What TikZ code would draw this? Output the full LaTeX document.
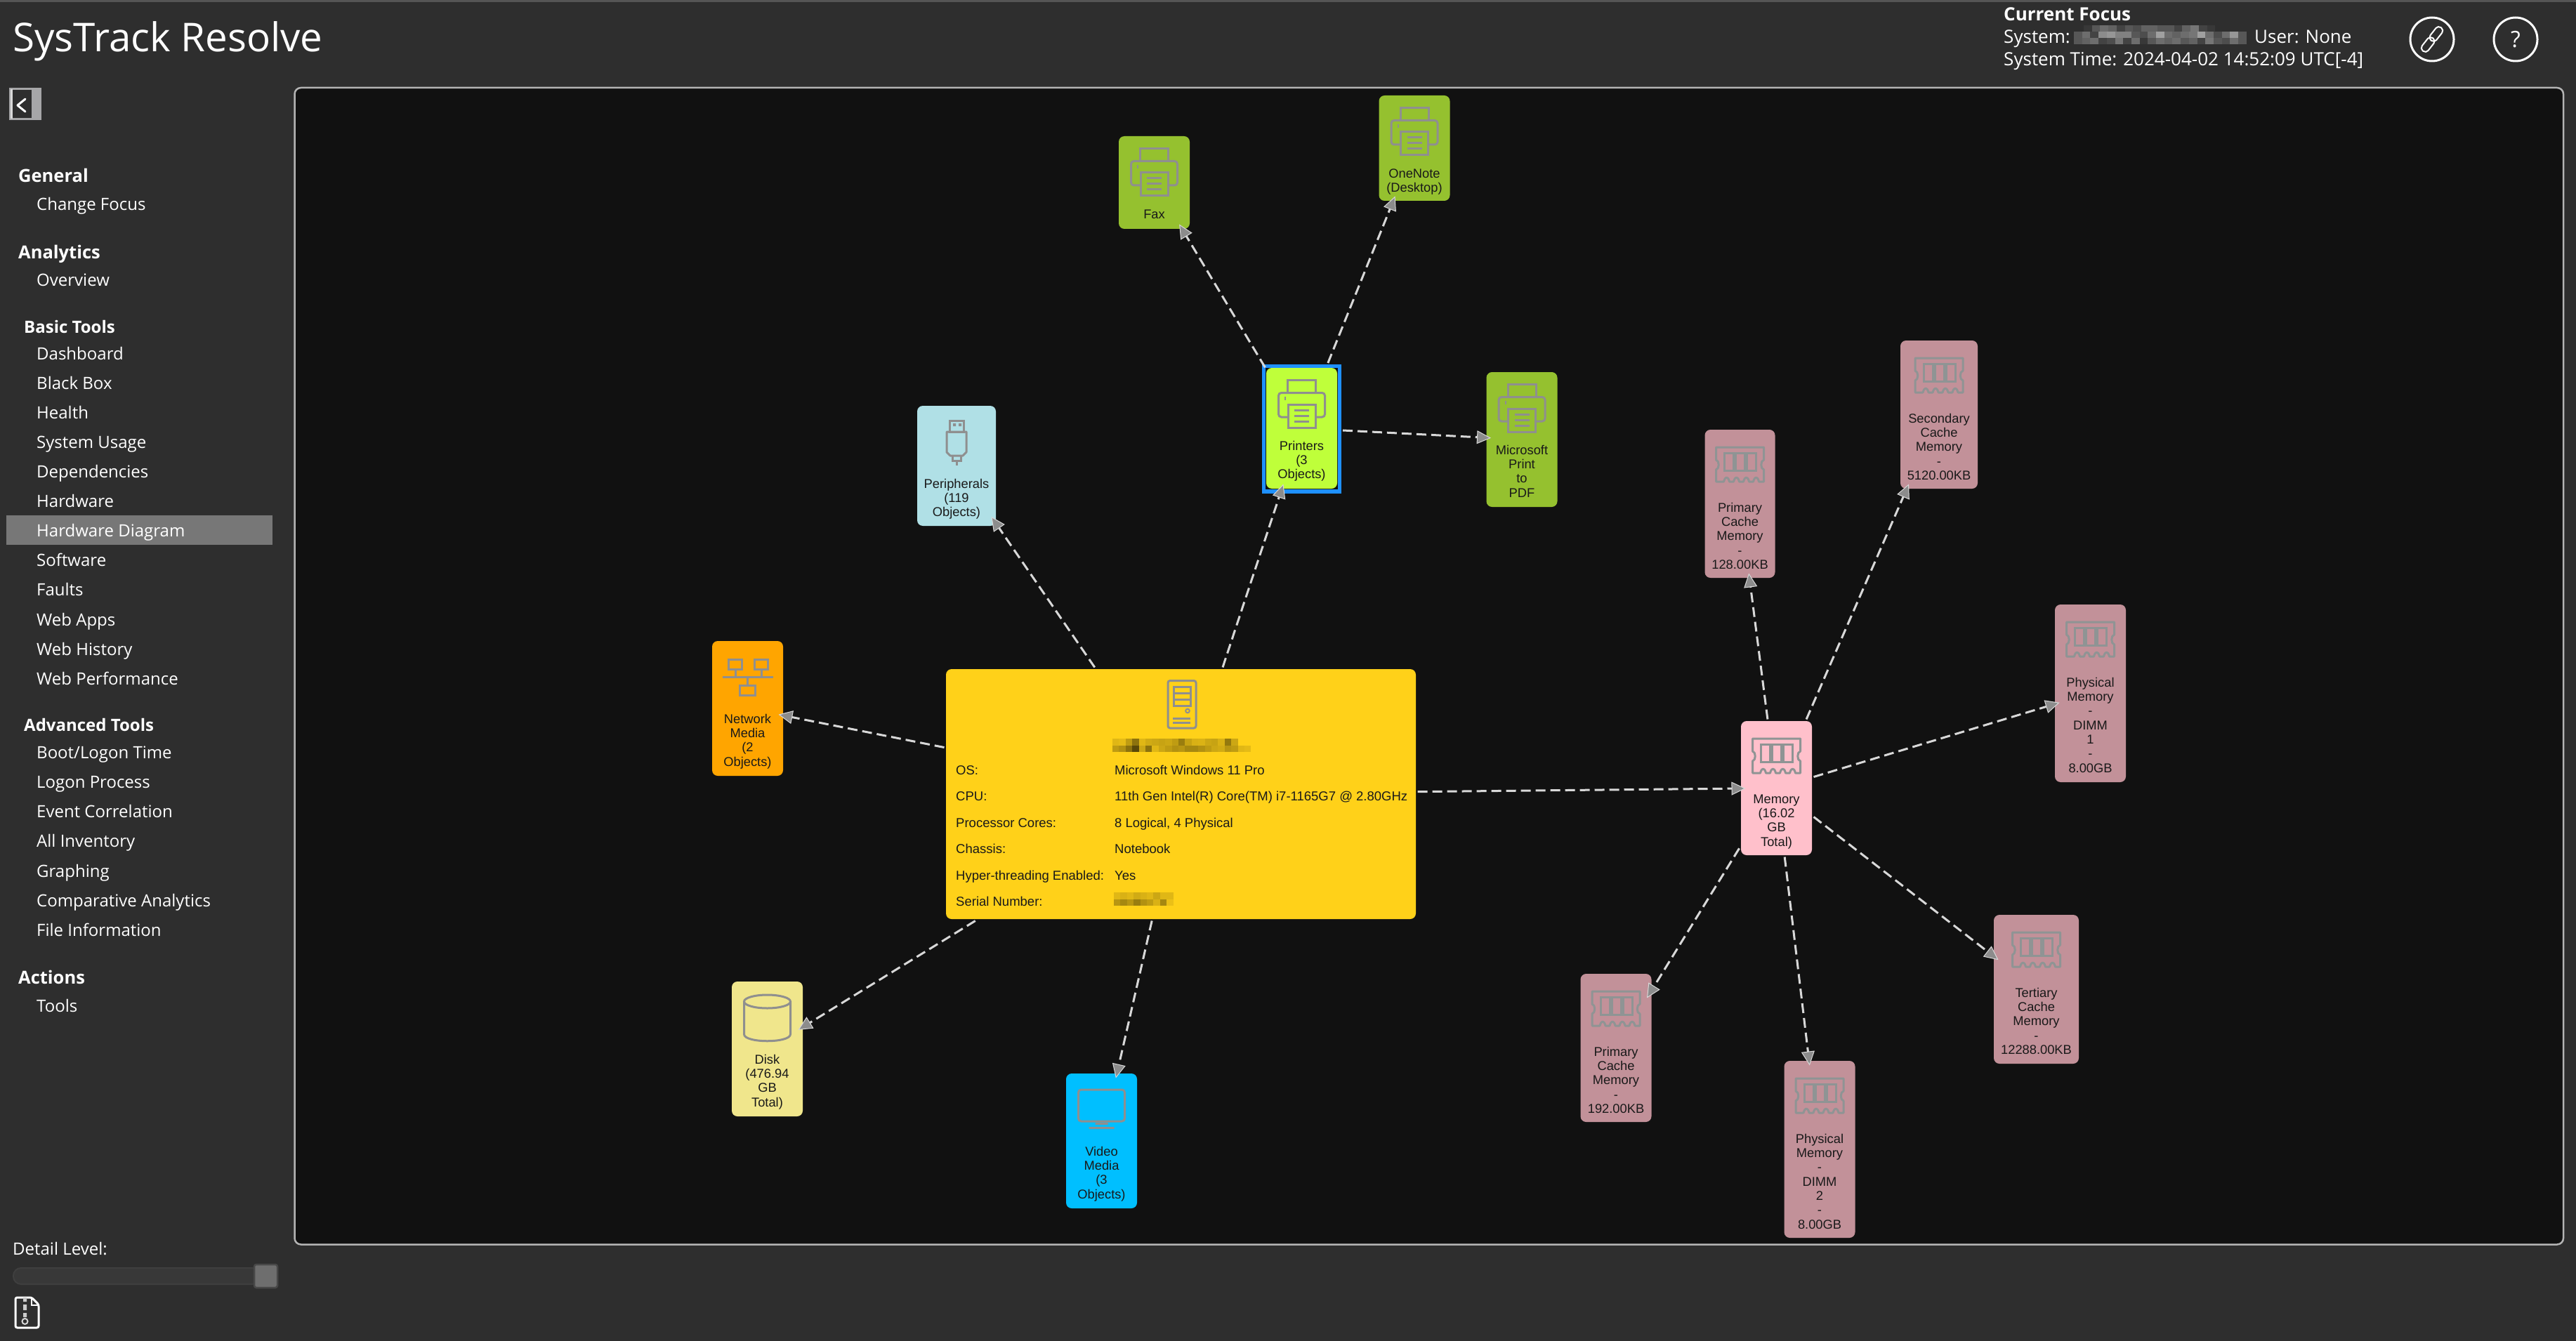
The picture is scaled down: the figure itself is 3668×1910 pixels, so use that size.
\documentclass[tikz,border=0pt]{standalone}
\usepackage{fontspec}
\setmainfont{Open Sans}
\newfontfamily\arialf{Liberation Sans}
\usetikzlibrary{arrows.meta}
\definecolor{pagebg}{HTML}{2E2E2E}
\definecolor{panelbg}{HTML}{111111}
\definecolor{panelline}{HTML}{B4B4B4}
\definecolor{edgeline}{HTML}{D8D8D8}
\definecolor{tipfill}{HTML}{8C8C8C}
\definecolor{icongray}{HTML}{8F8F8F}
\definecolor{ramgray}{HTML}{8F9494}
\definecolor{dimpink}{HTML}{C29199}
\definecolor{brightpink}{HTML}{FFC0CB}
\definecolor{dimgreen}{HTML}{95C12F}
\definecolor{brightgreen}{HTML}{BFFF3A}
\definecolor{mainyellow}{HTML}{FFD119}
\definecolor{selblue}{HTML}{1E90FF}
\definecolor{powder}{HTML}{B0E0E6}
\definecolor{orangec}{HTML}{FFA500}
\definecolor{khakic}{HTML}{F0E68C}
\definecolor{skyc}{HTML}{00BFFF}
\definecolor{topline}{HTML}{555555}
\definecolor{highlightc}{HTML}{777777}
\definecolor{trackfill}{HTML}{383838}
\definecolor{trackline}{HTML}{3F3F3F}
\definecolor{thumbfill}{HTML}{6E6E6E}
\definecolor{thumbline}{HTML}{484848}
\definecolor{btngray}{HTML}{A6A6A8}
\tikzset{
  chipbox/.style={rectangle,rounded corners=8pt,inner sep=0pt,outer sep=-6.5pt},
  lab/.style={anchor=north,align=center,inner sep=0pt,text=black!90,font=\arialf\fontsize{18.3}{20.3}\selectfont},
  edge/.style={edgeline,line width=3pt,dash pattern=on 14pt off 7pt,-{Triangle[length=20pt,width=19pt,fill=tipfill,line width=1pt]}},
  icon/.style={icongray,line width=3pt},
  ramicon/.style={ramgray,line width=3pt},
  navh/.style={anchor=base west,inner sep=0pt,text=white,font=\bfseries\fontsize{25.5}{28}\selectfont},
  navs/.style={anchor=base west,inner sep=0pt,text=white,font=\bfseries\fontsize{24}{28}\selectfont},
  navi/.style={anchor=base west,inner sep=0pt,text=white,font=\fontsize{24}{28}\selectfont},
  tabl/.style={anchor=base west,inner sep=0pt,text=black!90,font=\arialf\fontsize{18.5}{22}\selectfont},
  hdr/.style={anchor=base west,inner sep=0pt,text=white,font=\fontsize{26}{30}\selectfont},
}
\newcommand\chipnode[7]{%
  \node[chipbox,fill=#6,minimum width=#4pt,minimum height=#5pt] (#1) at (#2,{#3+#5/2}) {};
  \node[lab] (#1t) at (#2,{#3+103}) {\rule{0pt}{14pt}#7};}
\newcommand\printericon[2]{\begin{scope}[shift={(#1,#2)}]
  \draw[icon] (-20,35) -- (-20,17.5) -- (20,17.5) -- (20,35);
  \draw[icon,rounded corners=4pt] (-19.5,70) -- (-33,70) -- (-33,35.5) -- (33,35.5) -- (33,70) -- (19.5,70);
  \draw[icon] (-19.5,52) rectangle (19.5,85);
  \draw[icon] (-10.5,60) -- (10.5,60) (-10.5,68) -- (10.5,68) (-10.5,76) -- (10.5,76);
  \fill[icongray] (-24.5,41) rectangle (-22.5,46);
\end{scope}}
\newcommand\ramglyph[2]{\begin{scope}[shift={(#1,#2)}]
  \draw[ramicon,line join=round] (-34,25) -- (34,25) -- (34,43) .. controls (29,44) and (29,56) .. (34,57) -- (34,74)
    -- (27,74) .. controls (25,66) and (21,66) .. (19,74) -- (13,74) .. controls (11,66) and (7,66) .. (5,74)
    -- (-1,74) .. controls (-3,66) and (-7,66) .. (-9,74) -- (-15,74) .. controls (-17,66) and (-21,66) .. (-23,74) -- (-34,74)
    -- (-34,57) .. controls (-29,56) and (-29,44) .. (-34,43) -- cycle;
  \draw[ramicon] (-22,33) rectangle (-9,58) (-6,33) rectangle (7,58) (10,33) rectangle (23,58);
\end{scope}}
\begin{document}
\begin{tikzpicture}[x=1pt,y=-1pt]
\useasboundingbox (0,0) rectangle (3668,1910);
\fill[pagebg] (0,0) rectangle (3668,1910);
\fill[topline] (0,0) rectangle (3668,3.5);
% header
\node[anchor=base west,inner sep=0pt,text=white,font=\fontsize{56.5}{64}\selectfont] (title) at (18,74) {SysTrack Resolve};
\node[hdr,font=\bfseries\fontsize{26}{30}\selectfont] (focus) at (2853,30) {Current Focus};
\node[hdr] (sysl) at (2853,62) {System:};
\node[hdr] (userl) at (3210,62) {User: None};
\node[hdr] (timel) at (2853,94) {System Time: 2024-04-02 14:52:09 UTC[-4]};
\foreach \o [count=\i from 0] in {.05,.2,.3,.25,.1,.2,.15,.25,.25,.2,.2,.1,.25,.35,.1,.05}
  \fill[white,opacity=\o] ({2967+\i*11.7},36) rectangle +(11.7,9);
\foreach \o [count=\i from 0] in {.2,.3,.1,.45,.5,.4,.4,.2,.15,.3,.55,.3,.25,.3,.35,.55,.3,.15,.3,.5,.2}
  \fill[white,opacity=\o] ({2953+\i*11.7},45) rectangle +(11.7,9);
\foreach \o [count=\i from 0] in {.2,.25,.3,.1,.15,.35,.1,.3,.05,.2,.3,.25,.3,.2,.25,.1,.35,.2,.15,.3,.2}
  \fill[white,opacity=\o] ({2953+\i*11.7},54) rectangle +(11.7,9);
\node[circle,draw=white,line width=3pt,minimum size=62pt,inner sep=0pt] (linkbtn) at (3463,56) {};
\begin{scope}[shift={(3463,56)},rotate=52]
  \draw[white,line width=2pt,rounded corners=5pt] (-21,-5.5) rectangle (2,5.5);
  \draw[white,line width=2pt,rounded corners=5pt] (-2,-5.5) rectangle (21,5.5);
\end{scope}
\node[circle,draw=white,line width=3pt,minimum size=62pt,inner sep=0pt,text=white,font=\fontsize{32}{36}\selectfont] (helpbtn) at (3582,56) {?};
% collapse button
\fill[btngray] (13,125) rectangle (59,171);
\fill[pagebg] (18,128) rectangle (45,168);
\draw[white,line width=3pt,line cap=round,line join=round] (36,141) -- (25,150) -- (36,159);
\fill[white!85!black] (15,127) rectangle (18,169);
% sidebar
\node[navh] (gen) at (26,260) {General};
\node[navi] (chg) at (52,300) {Change Focus};
\node[navh] (ana) at (26,368) {Analytics};
\node[navi] (ovr) at (52,407) {Overview};
\node[navs] (bas) at (34,474) {Basic Tools};
\fill[highlightc] (9,734) rectangle (388,776);
\foreach \y/\t in {512/Dashboard,554/Black Box,596/Health,638/System Usage,680/Dependencies,722/Hardware,764/Hardware Diagram,806/Software,848/Faults,891/Web Apps,933/Web History,975/Web Performance}
  \node[navi] (nb\y) at (52,\y) {\t};
\node[navs] (adv) at (34,1041) {Advanced Tools};
\foreach \y/\t in {1080/{Boot/Logon Time},1122/Logon Process,1164/Event Correlation,1206/All Inventory,1249/Graphing,1291/Comparative Analytics,1333/File Information}
  \node[navi] (na\y) at (52,\y) {\t};
\node[navh] (act) at (26,1401) {Actions};
\node[navi] (tls) at (52,1441) {Tools};
% detail level
\node[navi] (detail) at (18,1787) {Detail Level:};
\draw[fill=trackfill,draw=trackline,line width=2pt,rounded corners=11pt] (19,1806) rectangle (370,1829);
\draw[fill=thumbfill,draw=thumbline,line width=2.5pt,rounded corners=3pt] (362,1801) rectangle (395,1834);
% zip file icon
\draw[white,line width=3pt,line join=round,rounded corners=2.5pt] (22,1848) -- (45,1848) -- (55,1858) -- (55,1891) -- (22,1891) -- cycle;
\draw[white,line width=2.5pt] (45,1848) -- (45,1859) -- (55,1859);
\fill[white!75!pagebg] (33,1848) rectangle (38,1854) (33,1858) rectangle (38,1866) (33,1870) rectangle (38,1876);
\draw[white!80!pagebg,line width=2pt] (35.5,1882) circle (4);
% panel
\draw[fill=panelbg,draw=panelline,line width=2.5pt,rounded corners=9pt] (419.5,125) rectangle (3650,1772.5);
% chips
\node[chipbox,fill=mainyellow,minimum width=669pt,minimum height=356pt] (main) at (1681.5,1131) {};
\chipnode{fax}{1643.5}{194}{101}{132}{dimgreen}{Fax}
\chipnode{onenote}{2014}{136}{101}{150}{dimgreen}{OneNote\\(Desktop)}
\chipnode{printers}{1853.5}{524}{101}{172}{brightgreen}{Printers\\(3\\Objects)}
\chipnode{msprint}{2167}{530}{101}{192}{dimgreen}{Microsoft\\Print\\to\\PDF}
\chipnode{periph}{1362}{578}{112}{171}{powder}{Peripherals\\(119\\Objects)}
\chipnode{netw}{1064.5}{913}{101}{192}{orangec}{Network\\Media\\(2\\Objects)}
\chipnode{disk}{1092.5}{1398}{101}{192}{khakic}{Disk\\(476.94\\GB\\Total)}
\chipnode{video}{1568.5}{1529}{101}{192}{skyc}{Video\\Media\\(3\\Objects)}
\chipnode{mem}{2529.5}{1027}{101}{191}{brightpink}{Memory\\(16.02\\GB\\Total)}
\chipnode{seccache}{2761}{485}{110}{211}{dimpink}{Secondary\\Cache\\Memory\\-\\5120.00KB}
\chipnode{primA}{2477.5}{612}{100}{211}{dimpink}{Primary\\Cache\\Memory\\-\\128.00KB}
\chipnode{physA}{2976.5}{861}{101}{253}{dimpink}{Physical\\Memory\\-\\DIMM\\1\\-\\8.00GB}
\chipnode{terc}{2899.5}{1303}{121}{212}{dimpink}{Tertiary\\Cache\\Memory\\-\\12288.00KB}
\chipnode{physB}{2591}{1511}{101}{252}{dimpink}{Physical\\Memory\\-\\DIMM\\2\\-\\8.00GB}
\chipnode{primB}{2301}{1387}{101}{211}{dimpink}{Primary\\Cache\\Memory\\-\\192.00KB}
% selection
\node[draw=selblue,line width=5.5pt,minimum width=108pt,minimum height=178.5pt,inner sep=0pt] (sel) at (1853.5,610.5) {};
% icons
\printericon{1643.5}{194}
\printericon{2014}{136}
\printericon{1853.5}{524}
\printericon{2167}{530}
\ramglyph{2529.5}{1027}
\ramglyph{2761}{485}
\ramglyph{2477.5}{612}
\ramglyph{2976.5}{861}
\ramglyph{2899.5}{1303}
\ramglyph{2591}{1511}
\ramglyph{2301}{1387}
% usb
\begin{scope}[shift={(1362,578)}]
  \draw[icon] (-10,21) rectangle (10,37);
  \fill[icongray] (-5,25) rectangle (-1,29) (3,25) rectangle (7,29);
  \draw[icon,line join=round] (-14,37) -- (14,37) -- (14,66) -- (9,71) -- (-9,71) -- (-14,66) -- cycle;
  \draw[icon] (-6,71) -- (-6,78) -- (6,78) -- (6,71) (0,78) -- (0,85);
\end{scope}
% network
\begin{scope}[shift={(1064.5,913)}]
  \draw[icon] (-27,26) rectangle (-8,40) (10,26) rectangle (29,40) (-11,63) rectangle (11,77);
  \draw[icon] (-36,51.5) -- (36,51.5) (-17.5,40) -- (-17.5,51.5) (19.5,40) -- (19.5,51.5) (0,51.5) -- (0,63);
\end{scope}
% disk
\begin{scope}[shift={(1092.5,1398)}]
  \draw[icon] (0,28.5) ellipse (33 and 9.5);
  \draw[icon] (-33,28.5) -- (-33,75) .. controls (-33,88) and (33,88) .. (33,75) -- (33,28.5);
\end{scope}
% monitor
\begin{scope}[shift={(1568.5,1529)}]
  \draw[icon,rounded corners=4pt] (-33,23) rectangle (33,68);
  \fill[icongray] (-9,70) rectangle (9,73) (-18,76) rectangle (18,79);
\end{scope}
% server
\draw[icon,rounded corners=3pt] (1663,969.5) rectangle (1703,1037);
\draw[icon] (1671,978) rectangle (1695,1005) (1671,987) -- (1695,987) (1671,996) -- (1695,996);
\draw[icon,line width=2pt] (1691,1012.5) circle (2.8);
\draw[icon] (1670,1023) -- (1695,1023) (1670,1029) -- (1695,1029);
% main table
\foreach \y/\a/\b in {1103/OS:/Microsoft Windows 11 Pro,1140/CPU:/11th Gen Intel(R) Core(TM) i7-1165G7 @ 2.80GHz,1178/Processor Cores:/{8 Logical, 4 Physical},1215/Chassis:/Notebook,1253/Hyper-threading Enabled:/Yes}{
  \node[tabl] (ka\y) at (1361,\y) {\a};
  \node[tabl] (va\y) at (1587,\y) {\b};
}
\node[tabl] (ka1290) at (1361,1290) {Serial Number:};
\foreach \o [count=\i from 0] in {.12,.1,.25,.45,.12,.18,.2,.22,.2,.25,.4,.22,.15,.14,.2,.22,.15,.42,.2}
  \fill[black,opacity=\o] ({1584+\i*9.4},1052) rectangle +(9.4,9.5);
\foreach \o [count=\i from 0] in {.25,.3,.45,.65,.2,.45,.12,.2,.25,.3,.28,.35,.35,.3,.25,.2,.18,.28,.25,.12,.1}
  \fill[black,opacity=\o] ({1584+\i*9.4},1061.5) rectangle +(9.4,9.5);
\foreach \o [count=\i from 0] in {.12,.15,.12,.18,.15,.12,.2,.12,.12}
  \fill[black,opacity=\o] ({1586+\i*9.4},1271) rectangle +(9.4,9.5);
\foreach \o [count=\i from 0] in {.28,.35,.28,.4,.3,.25,.15,.35,.08}
  \fill[black,opacity=\o] ({1586+\i*9.4},1280.5) rectangle +(9.4,9.5);
% connectors
\draw[edge,shorten <=9.2pt] (main) -- (netw);
\draw[edge,shorten <=10.9pt] (main) -- (periph);
\draw[edge,shorten <=9.5pt] (main) -- (printers);
\draw[edge,shorten <=9pt] (main) -- (mem);
\draw[edge,shorten <=17.2pt] (main) -- (disk);
\draw[edge,shorten <=9.2pt] (main) -- (video);
\draw[edge,shorten <=15.7pt] (printers) -- (fax);
\draw[edge,shorten <=14.5pt] (printers) -- (onenote);
\draw[edge,shorten <=14.5pt] (printers) -- (msprint);
\draw[edge,shorten <=9.1pt] (mem) -- (primA);
\draw[edge,shorten <=9.8pt] (mem) -- (seccache);
\draw[edge,shorten <=9.4pt] (mem) -- (physA);
\draw[edge,shorten <=11.4pt] (mem) -- (terc);
\draw[edge,shorten <=9.1pt] (mem) -- (physB);
\draw[edge,shorten <=17.1pt] (mem) -- (primB);
\end{tikzpicture}
\end{document}
